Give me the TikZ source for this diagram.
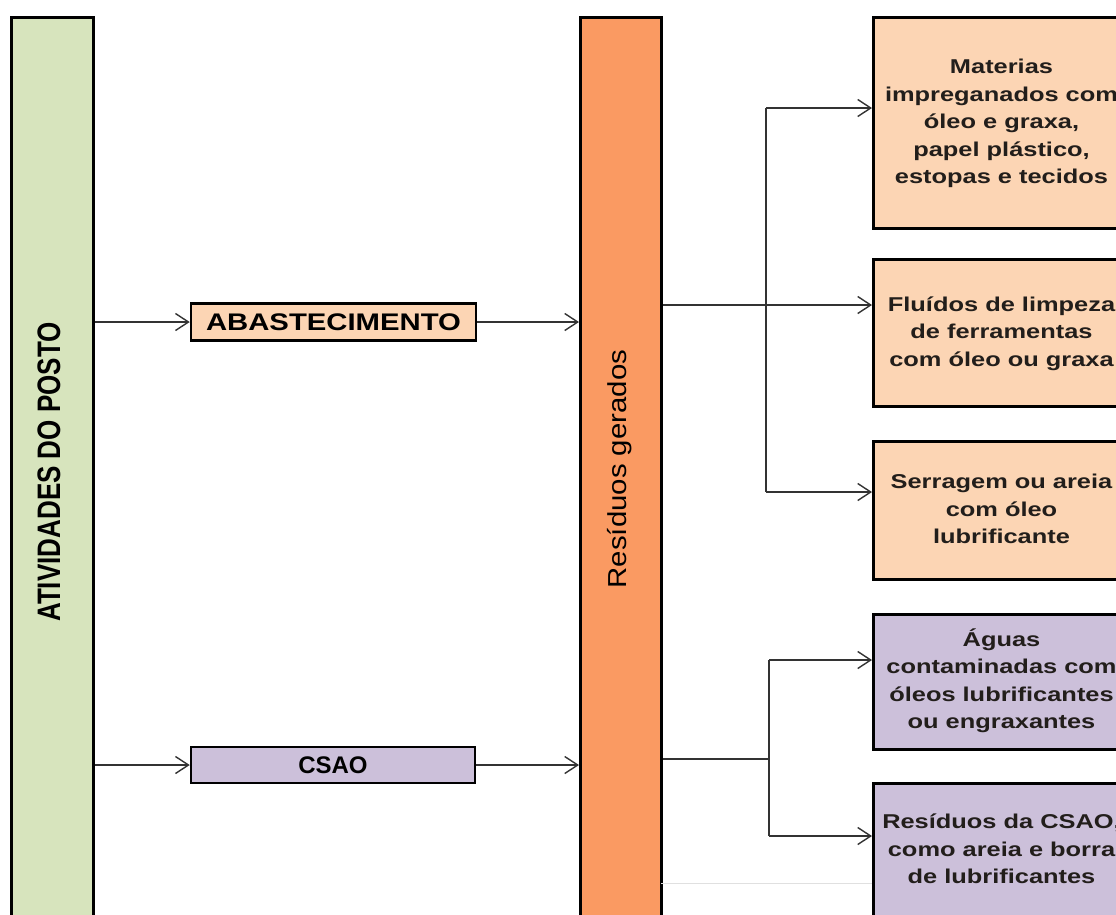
\documentclass[tikz,border=0pt]{standalone}
\usepackage{fontspec}
\setmainfont{Liberation Sans}
\usetikzlibrary{arrows.meta}
\definecolor{olivefill}{HTML}{D7E4BD}
\definecolor{orangebar}{HTML}{FA9A62}
\definecolor{peach}{HTML}{FCD5B4}
\definecolor{lilac}{HTML}{CCC0DA}
\definecolor{ink}{HTML}{221E1B}
\definecolor{wire}{HTML}{333333}
% widened bold multi-line label used in the result boxes
\newcommand{\widetext}[1]{\scalebox{1.27}[1]{\fontsize{20}{27.5}\selectfont\bfseries
  \begin{tabular}{@{}c@{}}#1\end{tabular}}}
\begin{document}
\begin{tikzpicture}[x=1pt,y=-1pt,
  bar/.style={draw=black, line width=3pt, inner sep=0pt, anchor=north west},
  result/.style={draw=black, line width=3pt, inner sep=0pt, anchor=north west,
    minimum width=256pt, text=ink},
  tag/.style={draw=black, line width=2.5pt, inner sep=0pt},
  link/.style={draw=wire, line width=1.4pt},
  arr/.style={link, -{Straight Barb[length=13pt,width=17pt,line width=1.4pt]}}]
\useasboundingbox (0,0) rectangle (1116,914);

% the two long vertical bars
\node[bar, fill=olivefill, minimum width=82pt, minimum height=930pt] (ativ) at (10,16) {};
\node[bar, fill=orangebar, minimum width=81pt, minimum height=930pt] (resid) at (579,16) {};
\node[rotate=90] (ativlbl) at (49,472)
  {\scalebox{1}[1.25]{\fontsize{26}{26}\selectfont\bfseries ATIVIDADES DO POSTO}};
\node[rotate=90] (residlbl) at (620,469)
  {\scalebox{1.13}[1]{\fontsize{26}{26}\selectfont Resíduos gerados}};

% activity tags
\node[tag, fill=peach, minimum width=285pt, minimum height=37pt] (abast) at (333.5,322)
  {\scalebox{1.22}[1]{\fontsize{24}{24}\selectfont\bfseries ABASTECIMENTO}};
\node[tag, fill=lilac, minimum width=284pt, minimum height=36pt] (csao) at (333,765)
  {\fontsize{24}{24}\selectfont\bfseries CSAO};

% result boxes
\node[result, fill=peach, minimum height=211pt] (b1) at (872,16)
  {\widetext{Materias\\impreganados com\\óleo e graxa,\\papel plástico,\\estopas e tecidos}};
\node[result, fill=peach, minimum height=147pt] (b2) at (872,258)
  {\widetext{Fluídos de limpeza\\de ferramentas\\com óleo ou graxa}};
\node[result, fill=peach, minimum height=138pt] (b3) at (872,440)
  {\widetext{Serragem ou areia\\com óleo\\lubrificante}};
\node[result, fill=lilac, minimum height=135pt] (b4) at (872,613)
  {\widetext{Águas\\contaminadas com\\óleos lubrificantes\\ou engraxantes}};
\node[result, fill=lilac, minimum height=134pt] (b5) at (872,782)
  {\widetext{Resíduos da CSAO,\\como areia e borra\\de lubrificantes}};

% activities -> tags -> bar
\draw[arr] (ativ.east |- abast.west) -- (abast.west);
\draw[arr] (abast.east) -- (abast.east -| resid.west);
\draw[arr] (ativ.east |- csao.west) -- (csao.west);
\draw[arr] (csao.east) -- (csao.east -| resid.west);

% first fan-out
\coordinate (k1) at (766,108);
\coordinate (k2) at (766,305);
\coordinate (k3) at (766,492);
\draw[link] (resid.east |- k2) -- (k2);
\draw[link] (k1) -- (k3);
\draw[arr] (k1) -- (k1 -| b1.west);
\draw[arr] (k2) -- (k2 -| b2.west);
\draw[arr] (k3) -- (k3 -| b3.west);

% second fan-out
\coordinate (m0) at (769,759);
\coordinate (m1) at (769,660);
\coordinate (m2) at (769,836);
\draw[link] (resid.east |- m0) -- (m0);
\draw[link] (m1) -- (m2);
\draw[arr] (m1) -- (m1 -| b4.west);
\draw[arr] (m2) -- (m2 -| b5.west);

% faint rule below the fan-out
\coordinate (g0) at (661,883);
\draw[draw=black!12, line width=1pt] (g0) -- (g0 -| b5.west);
\end{tikzpicture}
\end{document}
